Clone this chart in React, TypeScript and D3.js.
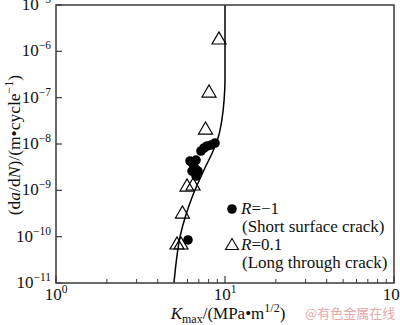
import React from "react";
import * as d3 from "d3";

// Fitted curve
const curveK = [4.99, 5.16, 5.42, 5.88, 6.47, 7.51, 8.55, 9.2, 9.58, 9.88, 10, 10];
const curveRate = [1e-11, 3.13e-11, 1e-10, 3e-10, 8e-10, 2.75e-9, 7.4e-9, 1.56e-8, 3.3e-8, 8.9e-8, 2.4e-7, 1e-5];

// R = -1 (short surface crack), filled circles
const shortK = [8.73, 8.26, 7.83, 7.51, 7.21, 6.21, 6.47, 6.74, 6.64, 6.92, 6.38, 6.74, 6.04];
const shortRate = [1.05e-8, 9.5e-9, 9.05e-9, 8.2e-9, 7.06e-9, 4.3e-9, 3.7e-9, 4.5e-9, 3.03e-9, 2.6e-9, 2.6e-9, 2.04e-9, 8.5e-11];

// R = 0.1 (long through crack), open triangles
const longK = [9.21, 8.04, 7.67, 5.96, 6.47, 5.6, 5.2, 5.49];
const longRate = [1.94e-6, 1.39e-7, 2.21e-8, 1.3e-9, 1.37e-9, 3.4e-10, 7.3e-11, 7.3e-11];

const xTickExp = [0, 1, 2];
const yTickExp = [-5, -6, -7, -8, -9, -10, -11];

const W = 400;
const H = 325;
const left = 56, right = 394, top = 5, bottom = 283;
const FONT = "'Liberation Serif', 'Times New Roman', serif";

export default function App() {
  const x = d3.scaleLog().domain([1, 100]).range([left, right]);
  const y = d3.scaleLog().domain([1e-11, 1e-5]).range([bottom, top]);

  const line = d3
    .line<number>()
    .x((_, i) => x(curveK[i]))
    .y((_, i) => y(curveRate[i]))
    .curve(d3.curveMonotoneY);
  const curvePath = line(curveK as any) || "";

  const minorX: number[] = [];
  for (let d = 1; d < 100; d *= 10) {
    for (let m = 2; m <= 9; m++) minorX.push(d * m);
  }

  const tri = (cx: number, cy: number, w = 14, h = 12) =>
    `M${cx - w / 2},${cy + h / 2}L${cx + w / 2},${cy + h / 2}L${cx},${cy - h / 2}Z`;

  const frameColor = "#3a3a3a";

  return (
    <svg width={W} height={H} style={{ position: "absolute", left: 0, top: 0, background: "#fff" }} fontFamily={FONT}>
      {/* curve */}
      <path d={curvePath} fill="none" stroke="#000" strokeWidth={1.5} />

      {/* triangles */}
      {longK.map((k, i) => (
        <path key={"t" + i} d={tri(x(k), y(longRate[i]))} fill="none" stroke="#000" strokeWidth={1.2} />
      ))}
      {/* circles */}
      {shortK.map((k, i) => (
        <circle key={"c" + i} cx={x(k)} cy={y(shortRate[i])} r={4.8} fill="#000" />
      ))}

      {/* frame */}
      <rect x={left} y={top} width={right - left} height={bottom - top} fill="none" stroke={frameColor} strokeWidth={1.5} />

      {/* x ticks */}
      {xTickExp.map((e) => (
        <line key={"xt" + e} x1={x(10 ** e)} x2={x(10 ** e)} y1={bottom} y2={bottom - 7} stroke={frameColor} strokeWidth={1.2} />
      ))}
      {minorX.map((v) => (
        <line key={"xm" + v} x1={x(v)} x2={x(v)} y1={bottom} y2={bottom - 4} stroke={frameColor} strokeWidth={1} />
      ))}
      {/* y ticks */}
      {yTickExp.map((e) => (
        <line key={"yt" + e} x1={left} x2={left + 6} y1={y(10 ** e)} y2={y(10 ** e)} stroke={frameColor} strokeWidth={1.2} />
      ))}

      {/* x tick labels */}
      {xTickExp.map((e) => (
        <text key={"xl" + e} x={x(10 ** e)} y={300} textAnchor="middle" fontSize={17} fill="#111">
          10<tspan dy={-7} fontSize={11.5}>{String(e)}</tspan>
        </text>
      ))}
      {/* y tick labels */}
      {yTickExp.map((e) => (
        <text key={"yl" + e} x={51} y={y(10 ** e) + 5} textAnchor="end" fontSize={17} fill="#111">
          10<tspan dy={-7} fontSize={11.5}>{"\u2212" + String(-e)}</tspan>
        </text>
      ))}

      {/* axis titles */}
      <text x={228} y={319} textAnchor="middle" fontSize={17} fill="#111">
        <tspan fontStyle="italic">K</tspan>
        <tspan dy={4} fontSize={12}>max</tspan>
        <tspan dy={-4}>/(MPa•m</tspan>
        <tspan dy={-7} fontSize={12}>1/2</tspan>
        <tspan dy={7}>)</tspan>
      </text>
      <text transform="translate(20,145) rotate(-90)" textAnchor="middle" fontSize={17.5} fill="#111">
        (d<tspan fontStyle="italic">a</tspan>/d<tspan fontStyle="italic">N</tspan>)/(m•cycle
        <tspan dy={-7} fontSize={12}>{"\u22121"}</tspan>
        <tspan dy={7}>)</tspan>
      </text>

      {/* legend */}
      <circle cx={232} cy={209} r={4.8} fill="#000" />
      <text x={241} y={214} fontSize={17} fill="#111">
        <tspan fontStyle="italic">R</tspan>=−1
      </text>
      <text x={242} y={232} fontSize={17} fill="#111">(Short surface crack)</text>
      <path d={tri(232, 244, 13, 11)} fill="none" stroke="#000" strokeWidth={1.1} />
      <text x={241} y={250} fontSize={17} fill="#111">
        <tspan fontStyle="italic">R</tspan>=0.1
      </text>
      <text x={242} y={268} fontSize={17} fill="#111">(Long through crack)</text>

      {/* watermark */}
      <text x={305} y={318} fontSize={13} fill="#e6a8a8" fontFamily="'Noto Sans CJK SC', sans-serif">@有色金属在线</text>
    </svg>
  );
}
